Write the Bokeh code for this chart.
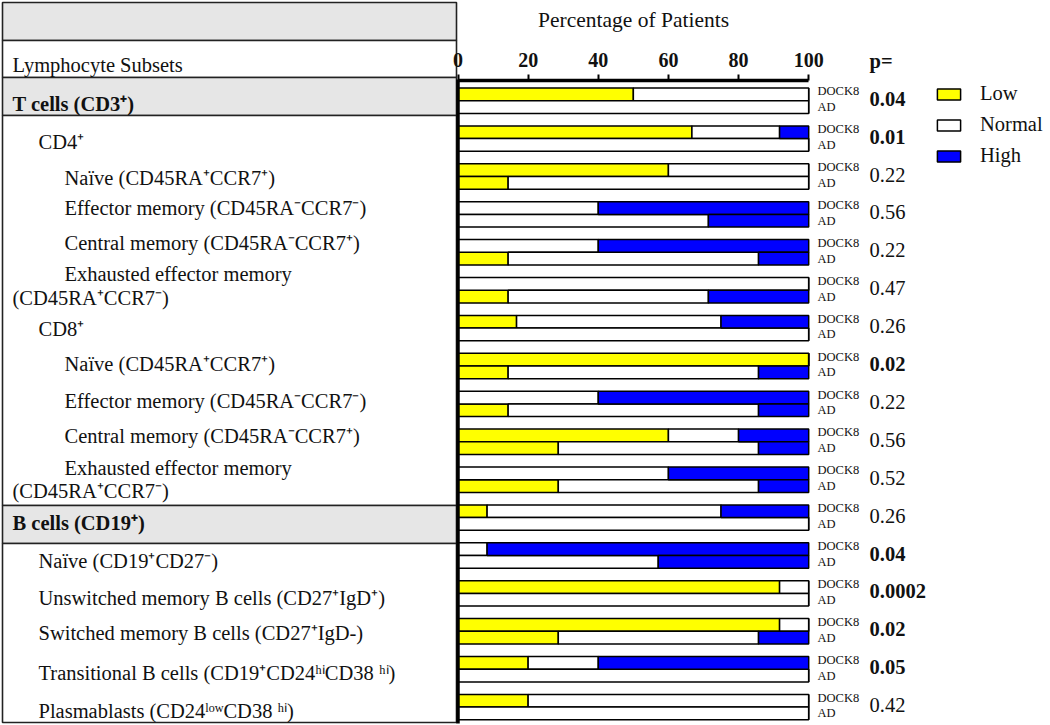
from bokeh.plotting import figure
from bokeh.models import ColumnDataSource, Range1d, LinearAxis, FixedTicker, Legend, LegendItem
from bokeh.core.properties import value
from bokeh.embed import file_html
from bokeh.resources import INLINE

# ---------------- data ----------------
subsets = [
    "T cells (CD3⁺)", "CD4⁺", "CD4 Naïve", "CD4 Effector memory", "CD4 Central memory",
    "CD4 Exhausted effector memory", "CD8⁺", "CD8 Naïve", "CD8 Effector memory",
    "CD8 Central memory", "CD8 Exhausted effector memory", "B cells (CD19⁺)",
    "B Naïve", "Unswitched memory B cells", "Switched memory B cells",
    "Transitional B cells", "Plasmablasts",
]
cohorts = ["DOCK8", "AD"]
levels = ["Low", "Normal", "High"]
level_colors = ["#FFFF00", "#FFFFFF", "#0000FF"]

dock8_low    = [50, 66.7, 60, 0, 0, 0, 16.7, 100, 0, 60, 0, 8.3, 0, 91.7, 91.7, 20, 20]
dock8_normal = [50, 25, 40, 40, 40, 100, 58.3, 0, 40, 20, 60, 66.7, 8.3, 8.3, 8.3, 20, 80]
dock8_high   = [0, 8.3, 0, 60, 60, 0, 25, 0, 60, 20, 40, 25, 91.7, 0, 0, 60, 0]
ad_low    = [0, 0, 14.3, 0, 14.3, 14.3, 0, 14.3, 14.3, 28.6, 28.6, 0, 0, 0, 28.6, 0, 0]
ad_normal = [100, 100, 85.7, 71.4, 71.4, 57.1, 100, 71.4, 71.4, 57.1, 57.1, 100, 57.1, 100, 57.1, 100, 100]
ad_high   = [0, 0, 0, 28.6, 14.3, 28.6, 0, 14.3, 14.3, 14.3, 14.3, 0, 42.9, 0, 14.3, 0, 0]

p_values = ["0.04", "0.01", "0.22", "0.56", "0.22", "0.47", "0.26", "0.02", "0.22",
            "0.56", "0.52", "0.26", "0.04", "0.0002", "0.02", "0.05", "0.42"]
p_significant = [True, True, False, False, False, False, False, True, False,
                 False, False, False, True, True, True, True, False]

x_ticks = [0, 20, 40, 60, 80, 100]

# table rows: (text, indent level, bold)
table_rows = [
    ("Lymphocyte Subsets", 0, False),
    ("T cells (CD3⁺)", 0, True),
    ("CD4⁺", 1, False),
    ("Naïve (CD45RA⁺CCR7⁺)", 2, False),
    ("Effector memory (CD45RA⁻CCR7⁻)", 2, False),
    ("Central memory (CD45RA⁻CCR7⁺)", 2, False),
    ("Exhausted effector memory", 2, False),
    ("(CD45RA⁺CCR7⁻)", 0, False),
    ("CD8⁺", 1, False),
    ("Naïve (CD45RA⁺CCR7⁺)", 2, False),
    ("Effector memory (CD45RA⁻CCR7⁻)", 2, False),
    ("Central memory (CD45RA⁻CCR7⁺)", 2, False),
    ("Exhausted effector memory", 2, False),
    ("(CD45RA⁺CCR7⁻)", 0, False),
    ("B cells (CD19⁺)", 0, True),
    ("Naïve (CD19⁺CD27⁻)", 1, False),
    ("Unswitched memory B cells (CD27⁺IgD⁺)", 1, False),
    ("Switched memory B cells (CD27⁺IgD-)", 1, False),
    ("Transitional B cells (CD19⁺CD24ʰⁱCD38 ʰⁱ)", 1, False),
    ("Plasmablasts (CD24ˡᵒʷCD38 ʰⁱ)", 1, False),
]

# ---------------- layout (reference pixel geometry) ----------------
REF_W, REF_H = 1050, 725
X0_PX, PX_PER_PCT = 457.5, 3.507
Y0_PX, GROUP_PX = 100.2, 37.9
BAR_PX = 12.7
W, H = 1050, 725

def xd(px):
    return (px - X0_PX) / PX_PER_PCT

def yd(py):
    return (py - Y0_PX) / GROUP_PX

FONT = value("Liberation Serif")
FS = "20.5px"
TXT = "#111111"

p = figure(width=W, height=H, x_range=Range1d(xd(0), xd(REF_W)),
           y_range=Range1d(yd(REF_H), yd(0)), output_backend="svg",
           toolbar_location=None, x_axis_location=None, y_axis_location=None,
           min_border=0, outline_line_color=None, background_fill_color="white")
p.xgrid.visible = False
p.ygrid.visible = False

# ---- left table boxes ----
box_edges = [2, 40, 77, 115, 505, 543, 722]
box_fill = ["#e6e6e6", "white", "#e6e6e6", "white", "#e6e6e6", "white"]
p.quad(left=[xd(2)] * 6, right=[xd(456)] * 6,
       top=[yd(v) for v in box_edges[:-1]], bottom=[yd(v) for v in box_edges[1:]],
       fill_color=box_fill, line_color="#222222", line_width=1.6)

indent_px = [12, 38, 64]
row_y_px = [64, 103, 141, 177, 207, 242, 273, 297, 328, 363, 400, 435, 467, 490,
            522, 560, 597, 632, 672, 710]
for bold in (False, True):
    sel = [k for k, r in enumerate(table_rows) if r[2] == bold]
    p.text(x=[xd(indent_px[table_rows[k][1]]) for k in sel],
           y=[yd(row_y_px[k]) for k in sel],
           text=[table_rows[k][0] for k in sel],
           text_font=FONT, text_font_size=FS, text_baseline="middle",
           text_align="left", text_color=TXT,
           text_font_style="bold" if bold else "normal")

# ---- stacked bars ----
half = BAR_PX / GROUP_PX / 2
ys, lows, norms, highs, labels = [], [], [], [], []
for i in range(len(subsets)):
    ys += [i - half, i + half]
    lows += [dock8_low[i], ad_low[i]]
    norms += [dock8_normal[i], ad_normal[i]]
    highs += [dock8_high[i], ad_high[i]]
    labels += cohorts
src = ColumnDataSource(dict(y=ys, Low=lows, Normal=norms, High=highs, cohort=labels))
rends = p.hbar_stack(levels, y="y", height=BAR_PX / GROUP_PX, color=level_colors,
                     line_color="black", line_width=1.5, source=src)

# cohort labels next to bars (DOCK8 sits a little higher than its bar)
lab_y = [y - (3 / GROUP_PX if c == "DOCK8" else 0) for y, c in zip(ys, labels)]
src_lab = ColumnDataSource(dict(x=[xd(817)] * len(ys), y=lab_y, t=labels))
p.text(x="x", y="y", text="t", source=src_lab, text_font=FONT,
       text_font_size="12.5px", text_baseline="middle", text_color=TXT)

# vertical axis line
p.segment(x0=[0], y0=[yd(79)], x1=[0], y1=[yd(723)], line_color="black", line_width=3.5)

# p-values
for bold in (False, True):
    sel = [i for i in range(len(subsets)) if p_significant[i] == bold]
    p.text(x=[xd(869)] * len(sel), y=[float(i) - 2 / GROUP_PX for i in sel],
           text=[p_values[i] for i in sel], text_font=FONT, text_font_size=FS,
           text_baseline="middle", text_color=TXT,
           text_font_style="bold" if bold else "normal")
p.text(x=[xd(869)], y=[yd(60)], text=["p="], text_font=FONT, text_font_size=FS,
       text_baseline="middle", text_color=TXT, text_font_style="bold")

# top axis
ax = LinearAxis(fixed_location=yd(80), bounds=(0, 100), ticker=FixedTicker(ticks=x_ticks),
                axis_label="Percentage of Patients")
ax.axis_line_width = 3.5
ax.major_tick_out = 6
ax.major_tick_in = 0
ax.major_tick_line_width = 2
ax.minor_tick_out = 0
ax.minor_tick_in = 0
ax.major_label_text_font = "Liberation Serif"
ax.major_label_text_font_style = "bold"
ax.major_label_text_font_size = "20px"
ax.major_label_text_color = TXT
ax.major_label_standoff = 8
ax.axis_label_text_font = "Liberation Serif"
ax.axis_label_text_font_style = "normal"
ax.axis_label_text_font_size = "21.5px"
ax.axis_label_text_color = TXT
ax.axis_label_standoff = 18
p.add_layout(ax, "above")

# legend
legend = Legend(items=[LegendItem(label=lv, renderers=[r]) for lv, r in zip(levels, rends)],
                location=(934, H - (156 + 11)),
                glyph_width=29, glyph_height=14, label_height=22, spacing=8,
                label_standoff=17, padding=0, margin=0,
                border_line_color=None, background_fill_alpha=0,
                label_text_font="Liberation Serif", label_text_font_size=FS,
                label_text_color=TXT)
p.add_layout(legend)

open("out.html", "w").write(file_html(p, INLINE))
